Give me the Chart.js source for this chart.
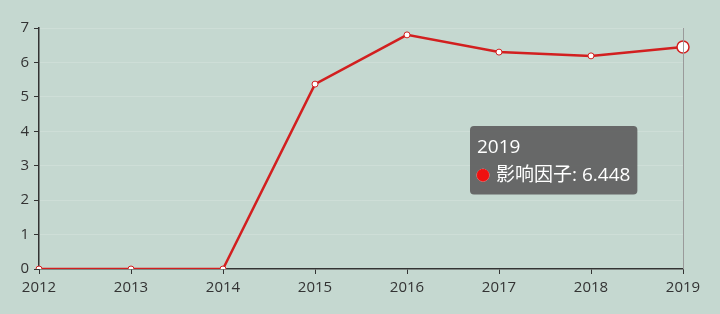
<!DOCTYPE html>
<html>
<head>
<meta charset="utf-8">
<script src="https://cdn.jsdelivr.net/npm/chart.js@4/dist/chart.umd.min.js"></script>
<style>
  html, body { margin: 0; padding: 0; background: #c5d8d0; }
  #wrap { width: 720px; height: 314px; position: relative; }
</style>
</head>
<body>
<div id="wrap"><canvas id="chart"></canvas></div>
<script>
const years = ['2012', '2013', '2014', '2015', '2016', '2017', '2018', '2019']
const impactFactor = [0, 0, 0, 5.37, 6.80, 6.30, 6.19, 6.448]
const seriesName = '影响因子'
const yTicks = { min: 0, max: 7, step: 1 }
const activeIndex = 7

const FONT = '"Open Sans", "Noto Sans CJK SC", sans-serif'
const RED = '#d21f1f'

Chart.Tooltip.positioners.fixedBox = function (items) {
  if (!items.length) return false
  const area = this.chart.chartArea
  const pt = items[0].element
  // box sits left of and below the hovered point
  return { x: pt.x - 209, y: area.top + 98 }
}

const crosshair = {
  id: 'crosshair',
  afterDatasetsDraw(chart) {
    const act = chart.getActiveElements()
    if (!act.length) return
    const x = chart.scales.x.getPixelForValue(act[0].index)
    const { top, bottom } = chart.chartArea
    const ctx = chart.ctx
    ctx.save()
    ctx.strokeStyle = '#9a9a9a'
    ctx.lineWidth = 1
    ctx.beginPath()
    ctx.moveTo(Math.round(x) + 0.5, top)
    ctx.lineTo(Math.round(x) + 0.5, bottom)
    ctx.stroke()
    ctx.restore()
  }
}

const chart = new Chart(document.getElementById('chart'), {
  type: 'line',
  data: {
    labels: years,
    datasets: [{
      label: seriesName,
      data: impactFactor,
      borderColor: RED,
      backgroundColor: RED,
      borderWidth: 2.5,
      tension: 0,
      pointRadius: 3,
      pointBackgroundColor: '#ffffff',
      pointBorderColor: RED,
      pointBorderWidth: 1,
      pointHoverRadius: 6,
      pointHoverBackgroundColor: '#ffffff',
      pointHoverBorderColor: RED,
      pointHoverBorderWidth: 1.5
    }]
  },
  options: {
    responsive: true,
    maintainAspectRatio: false,
    animation: false,
    events: [],
    layout: { padding: { top: 28, right: 37, bottom: 0, left: 0 } },
    plugins: {
      legend: { display: false },
      tooltip: {
        position: 'fixedBox',
        xAlign: 'left',
        yAlign: 'top',
        caretSize: 0,
        caretPadding: 0,
        cornerRadius: 4,
        backgroundColor: 'rgba(92,92,92,0.9)',
        titleColor: '#ffffff',
        bodyColor: '#ffffff',
        titleFont: { family: FONT, size: 19, weight: 'normal' },
        bodyFont: { family: FONT, size: 19 },
        titleMarginBottom: 5,
        padding: { top: 10, bottom: 8, left: 7, right: 7 },
        usePointStyle: true,
        boxWidth: 12,
        boxHeight: 12,
        boxPadding: 5,
        callbacks: {
          labelColor: () => ({ borderColor: '#ee1111', backgroundColor: '#ee1111', borderWidth: 0 }),
          labelPointStyle: () => ({ pointStyle: 'circle', rotation: 0 }),
          label: ctx => ctx.dataset.label + ': ' + ctx.parsed.y
        }
      }
    },
    scales: {
      x: {
        offset: false,
        grid: { color: 'rgba(0,0,0,0)', tickColor: '#333333', tickLength: 5, drawOnChartArea: false },
        border: { color: '#333333', width: 1.5 },
        ticks: { color: '#333333', font: { family: FONT, size: 15 }, padding: 5, maxRotation: 0, autoSkip: false },
        afterFit: s => { s.height = 45 }
      },
      y: {
        min: yTicks.min,
        max: yTicks.max,
        grid: { color: 'rgba(255,255,255,0.16)', tickColor: '#333333', tickLength: 5 },
        border: { color: '#333333', width: 1.5 },
        ticks: { stepSize: yTicks.step, color: '#333333', font: { family: FONT, size: 15 }, padding: 5 },
        afterFit: s => { s.width = 39 }
      }
    }
  },
  plugins: [crosshair]
})

const active = [{ datasetIndex: 0, index: activeIndex }]
chart.setActiveElements(active)
chart.tooltip.setActiveElements(active, { x: 0, y: 0 })
chart.update()
</script>
</body>
</html>
